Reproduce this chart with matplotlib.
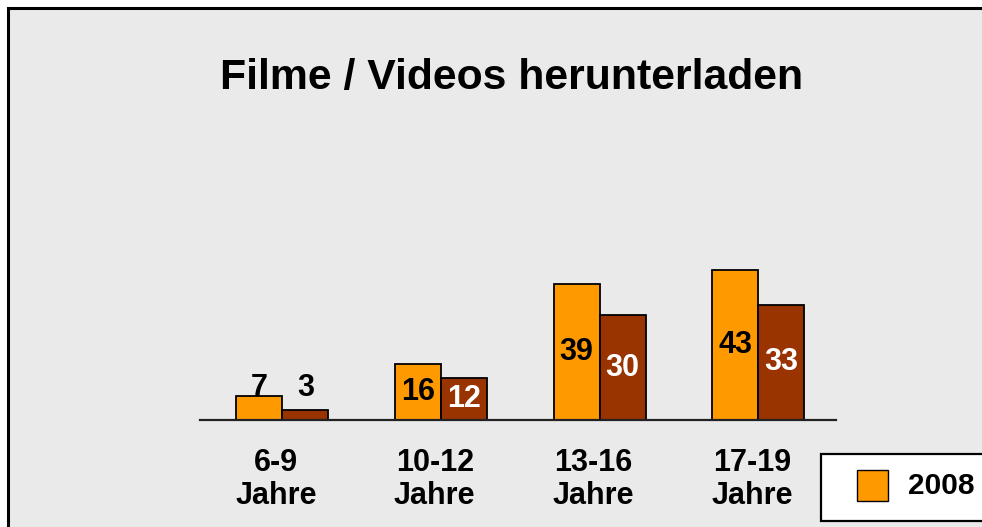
import matplotlib
matplotlib.use("Agg")
import matplotlib.pyplot as plt
from matplotlib.patches import Rectangle

plt.rcParams['font.family'] = ['Liberation Sans', 'DejaVu Sans']

# data
groups = ["6-9\nJahre", "10-12\nJahre", "13-16\nJahre", "17-19\nJahre"]
vals_2008 = [7, 16, 39, 43]
vals_2007 = [3, 12, 30, 33]
legend_label = "2008"
title = "Filme / Videos herunterladen"

orange = "#FF9900"
brown = "#993300"
bg = "#EAEAEA"

W, H = 982, 527
fig = plt.figure(figsize=(W / 100, H / 100), dpi=100, facecolor="white")

# grey panel with black frame (runs off right/bottom edge)
fig.patches.append(Rectangle((8 / W, -0.1), 1.2, 1 - 8 / H + 0.1,
                             transform=fig.transFigure, facecolor=bg,
                             edgecolor="black", linewidth=2.2, zorder=-1))

ax = fig.add_axes([200 / W, 1 - 420 / H, 636 / W, 349 / H])
ax.set_facecolor("none")
ax.set_zorder(2)

x = list(range(len(groups)))
w = 0.29
ax.bar([i - w / 2 for i in x], vals_2008, width=w, color=orange,
       edgecolor="black", linewidth=1.3, zorder=2)
ax.bar([i + w / 2 for i in x], vals_2007, width=w, color=brown,
       edgecolor="black", linewidth=1.3, zorder=2)

for i in x:
    for v, dx, col in ((vals_2008[i], -w / 2, "black"),
                       (vals_2007[i], w / 2, "white")):
        if v >= 10:
            y = v / 2
        else:
            y = 9.3
            col = "black"
        ax.text(i + dx, y, str(v), ha="center", va="center",
                fontsize=22, fontweight="bold", color=col, zorder=3)

ax.set_xlim(-0.52, 3.49)
ax.set_ylim(0, 100)
ax.set_xticks([i - 0.04 for i in x])
ax.set_xticklabels(groups, fontsize=22, fontweight="bold", linespacing=1.12)
ax.tick_params(axis="x", length=0, pad=20)
ax.set_yticks([])
for s in ("top", "left", "right"):
    ax.spines[s].set_visible(False)
ax.spines["bottom"].set_linewidth(1.6)
ax.spines["bottom"].set_color("#222222")

fig.text(512 / W, 1 - 78 / H, title, ha="center", va="center",
         fontsize=30.8, fontweight="bold")

# legend box (cut at the right edge like the original)
fig.patches.append(Rectangle((821 / W, 1 - 521 / H), 0.3, 67 / H,
                             transform=fig.transFigure, facecolor="white",
                             edgecolor="black", linewidth=1.6, zorder=5))
fig.patches.append(Rectangle((857 / W, 1 - 501 / H), 31 / W, 31 / H,
                             transform=fig.transFigure, facecolor=orange,
                             edgecolor="black", linewidth=1, zorder=6))
fig.text(908 / W, 1 - 486 / H, legend_label, ha="left", va="center",
         fontsize=21.5, fontweight="bold", zorder=7)

fig.savefig("out.png", dpi=100, facecolor="white")
